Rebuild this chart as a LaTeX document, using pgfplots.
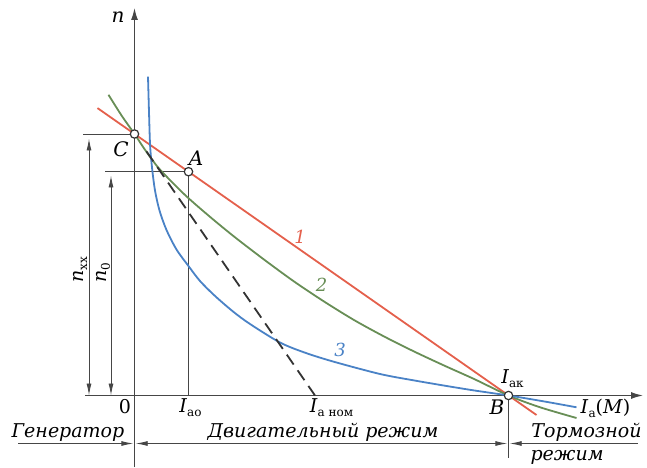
\documentclass[border=0pt]{standalone}
\usepackage{pgfplots}
\pgfplotsset{compat=1.18}
\usepackage{fontspec}
\setmainfont{DejaVu Serif}
\usetikzlibrary{arrows.meta}
\definecolor{cred}{RGB}{228,96,76}
\definecolor{cgreen}{RGB}{104,142,86}
\definecolor{cblue}{RGB}{74,130,198}
\definecolor{cline}{RGB}{70,70,70}
\newcommand{\sub}[1]{\raisebox{-0.4ex}{\fontsize{6}{7}\selectfont #1}}
\begin{document}
\begin{tikzpicture}[font=\fontsize{9.5}{11}\selectfont]
\begin{axis}[hide axis, x=0.5pt, y=0.5pt, xmin=-134.5, xmax=512.5, ymin=-71.5, ymax=395.5,
  clip=false, scale only axis]
% axes
\draw[cline, line width=0.6pt, -{Latex[length=6pt,width=3.5pt]}] (axis cs:-49.5,0) -- (axis cs:508.5,0);
\draw[cline, line width=0.6pt, -{Latex[length=6pt,width=3.5pt]}] (axis cs:0,-71.5) -- (axis cs:0,387.5);
% construction lines
\draw[cline, line width=0.45pt] (axis cs:-51.5,261.5) -- (axis cs:0,261.5);
\draw[cline, line width=0.45pt] (axis cs:-29.5,223.8) -- (axis cs:54,223.8) -- (axis cs:54,0);
\draw[cline, line width=0.45pt, {Latex[length=6pt,width=2.5pt]}-{Latex[length=6pt,width=2.5pt]}] (axis cs:-45.5,0) -- (axis cs:-45.5,257);
\draw[cline, line width=0.45pt, {Latex[length=6pt,width=2.5pt]}-{Latex[length=6pt,width=2.5pt]}] (axis cs:-23.5,0) -- (axis cs:-23.5,220);
\draw[cline, line width=0.45pt] (axis cs:374,0) -- (axis cs:374,-62);
% mode arrows
\draw[cline, line width=0.45pt, -{Latex[length=6pt,width=2.5pt]}] (axis cs:-116.5,-48) -- (axis cs:-1.2,-48);
\draw[cline, line width=0.45pt, {Latex[length=6pt,width=2.5pt]}-{Latex[length=6pt,width=2.5pt]}] (axis cs:1.2,-48) -- (axis cs:372.8,-48);
\draw[cline, line width=0.45pt, {Latex[length=6pt,width=2.5pt]}-] (axis cs:375.2,-48) -- (axis cs:503.5,-48);
% curve 1
\addplot[cred, line width=0.9pt] coordinates {(-37,287.4) (402,-19.5)};
% curve 2
\addplot[cgreen, line width=0.9pt, smooth] coordinates {
(-26,300.7) (-13,280.1) (0,261.5) (12,243.6) (25,226.5) (50,201) (75,179.1) (100,158.6)
(130,135.6) (160,113.7) (190,93.7) (220,75.2) (250,58.8) (280,43.8) (310,29.8) (340,16.3)
(374,0) (405,-11.6) (442,-22.5)};
% curve 3
\addplot[cblue, line width=0.9pt, smooth] coordinates {
(13.5,318.8) (14.6,280) (15.6,250) (17.5,228) (20.5,205) (25,185) (32,165.5) (42,146) (54.5,128.8)
(65.5,114.5) (80,100) (98.5,84) (115.5,71.5) (145.5,53) (170,43) (198.5,34) (245.5,21.5)
(280,15) (312.2,9.5) (340,5) (374,0) (410,-6) (442,-11.8)};
% dashed tangent
\addplot[black!80, line width=0.9pt, dash pattern=on 6pt off 3.5pt] coordinates {(12,244.1) (180.5,0)};
% points
\addplot[only marks, mark=*, mark size=2.1pt, mark options={fill=white, draw=black!80, line width=0.6pt}]
  coordinates {(0,261.5) (54,223.8) (374,0)};
% labels
\node[font=\fontsize{10}{12}\selectfont\itshape] at (axis cs:-16.5,378.5) {n};
\node at (axis cs:-9.5,-11.5) {0};
\node[font=\fontsize{10}{12}\selectfont\itshape] at (axis cs:-13.5,246.5) {C};
\node[font=\fontsize{10}{12}\selectfont\itshape] at (axis cs:61.5,237.5) {A};
\node[font=\fontsize{10}{12}\selectfont\itshape] at (axis cs:362.5,-11.5) {B};
\node[cred, font=\fontsize{9}{11}\selectfont\itshape] at (axis cs:165.5,158.5) {1};
\node[cgreen, font=\fontsize{9}{11}\selectfont\itshape] at (axis cs:187,110.5) {2};
\node[cblue, font=\fontsize{9}{11}\selectfont\itshape] at (axis cs:205.5,45.5) {3};
\node at (axis cs:56,-12.5) {\textit{I}\sub{ао}};
\node at (axis cs:197,-12.5) {\textit{I}\sub{а ном}};
\node at (axis cs:378,16.5) {\textit{I}\sub{ак}};
\node at (axis cs:471,-12.5) {\textit{I}\sub{а}(\textit{M})};
\node[rotate=90] at (axis cs:-54.5,125.5) {\textit{n}\sub{хх}};
\node[rotate=90] at (axis cs:-31.5,122.5) {\textit{n}\sub{0}};
\node[anchor=base, font=\fontsize{9.5}{11}\selectfont\itshape] at (axis cs:-66.5,-42) {Генератор};
\node[anchor=base, font=\fontsize{9.5}{11}\selectfont\itshape] at (axis cs:188.5,-42) {Двигательный режим};
\node[anchor=base, font=\fontsize{9.5}{11}\selectfont\itshape] at (axis cs:452,-42) {Тормозной};
\node[anchor=base, font=\fontsize{9.5}{11}\selectfont\itshape] at (axis cs:432.5,-65) {режим};
\end{axis}
\pgfresetboundingbox
\path (current axis.south west) rectangle (current axis.north east);
\end{tikzpicture}
\end{document}
